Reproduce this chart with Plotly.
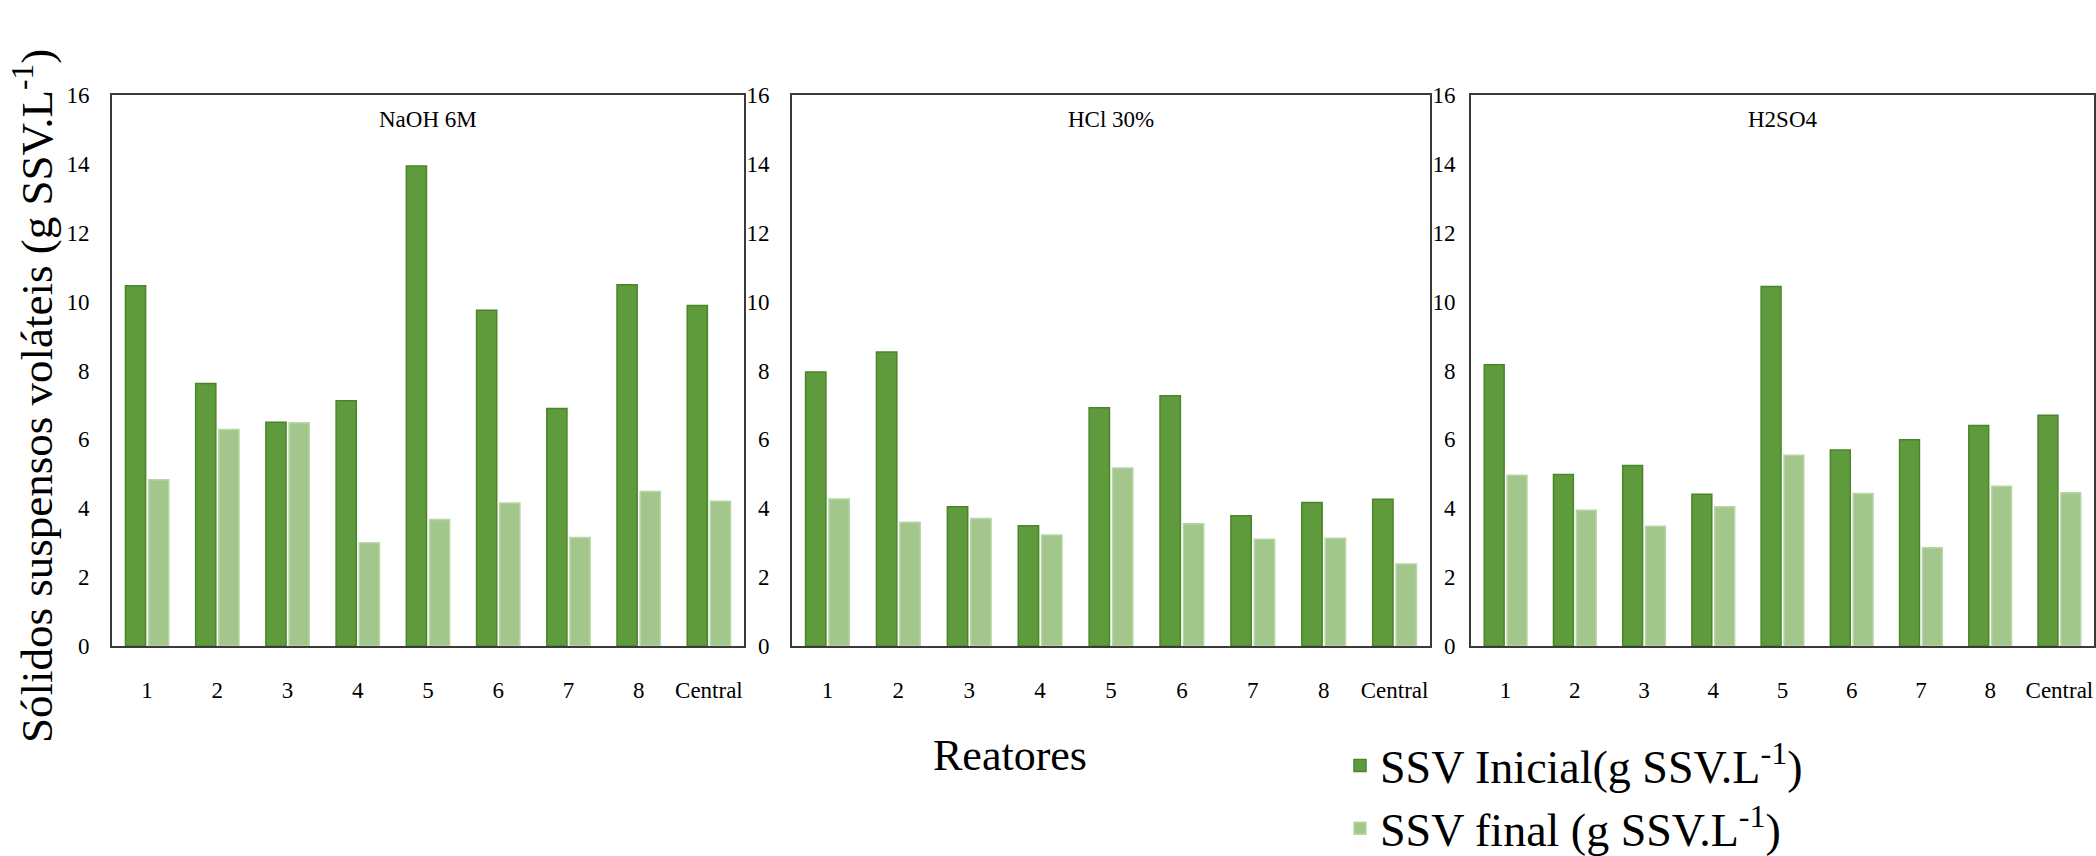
import plotly.graph_objects as go

# Reactor labels and panel (treatment) names
reatores = ["1", "2", "3", "4", "5", "6", "7", "8", "Central"]
tratamentos = ["NaOH 6M", "HCl 30%", "H2SO4"]

# Volatile suspended solids (g SSV/L), initial and final, per treatment
naoh_inicial = [10.46, 7.62, 6.50, 7.12, 13.94, 9.75, 6.90, 10.49, 9.89]
naoh_final = [4.83, 6.29, 6.48, 3.00, 3.67, 4.15, 3.15, 4.49, 4.20]

hcl_inicial = [7.96, 8.54, 4.04, 3.49, 6.92, 7.27, 3.78, 4.17, 4.26]
hcl_final = [4.27, 3.59, 3.70, 3.22, 5.17, 3.55, 3.10, 3.13, 2.38]

h2so4_inicial = [8.17, 4.98, 5.24, 4.41, 10.44, 5.69, 5.99, 6.40, 6.70]
h2so4_final = [4.96, 3.94, 3.48, 4.04, 5.54, 4.43, 2.85, 4.64, 4.45]

y_ticks = [0, 2, 4, 6, 8, 10, 12, 14, 16]

W, H = 2096, 856
FONT = "Liberation Serif"
COR_INICIAL = "#5f9b3c"
BORDA_INICIAL = "#4a852a"
COR_FINAL = "#a3c68d"
BORDA_FINAL = "#b8d6a6"

# Panel placement in pixels (left, right), shared top/bottom, y-label gap
paineis_px = [(112, 744), (792, 1430), (1471, 2094)]
afastamento_y = [16, 16, 9]
topo_px, base_px = 95, 646

dados = [
    (naoh_inicial, naoh_final),
    (hcl_inicial, hcl_final),
    (h2so4_inicial, h2so4_final),
]

fig = go.Figure()

for i, (ini, fin) in enumerate(dados):
    sfx = "" if i == 0 else str(i + 1)
    fig.add_trace(go.Bar(
        x=reatores, y=ini, name="SSV Inicial(g SSV.L<sup>-1</sup>)",
        marker=dict(color=COR_INICIAL, line=dict(color=BORDA_INICIAL, width=1.5)),
        xaxis="x" + sfx, yaxis="y" + sfx,
        showlegend=(i == 0), legendgroup="ini",
    ))
    fig.add_trace(go.Bar(
        x=reatores, y=fin, name="SSV final (g SSV.L<sup>-1</sup>)",
        marker=dict(color=COR_FINAL, line=dict(color=BORDA_FINAL, width=1.5)),
        xaxis="x" + sfx, yaxis="y" + sfx,
        showlegend=(i == 0), legendgroup="fin",
    ))

y_dom = [1 - base_px / H, 1 - topo_px / H]
eixo_comum = dict(
    showline=True, linecolor="#3a3a3a", linewidth=2, mirror=True,
    showgrid=False, zeroline=False, ticks="", automargin=False,
    tickfont=dict(family=FONT, size=23, color="#000"),
)

layout_axes = {}
for i, (l, r) in enumerate(paineis_px):
    sfx = "" if i == 0 else str(i + 1)
    layout_axes["xaxis" + sfx] = dict(
        domain=[l / W, r / W], anchor="y" + sfx,
        type="category", ticklabelstandoff=22, **eixo_comum,
    )
    layout_axes["yaxis" + sfx] = dict(
        domain=y_dom, anchor="x" + sfx, range=[0, 16],
        tickvals=y_ticks, ticklabelstandoff=afastamento_y[i], **eixo_comum,
    )

anotacoes = []
for i, nome in enumerate(tratamentos):
    sfx = "" if i == 0 else str(i + 1)
    anotacoes.append(dict(
        text=nome, xref="x" + sfx + " domain", yref="y" + sfx + " domain",
        x=0.5, y=0.955, xanchor="center", yanchor="middle", showarrow=False,
        font=dict(family=FONT, size=23, color="#000"),
    ))

anotacoes.append(dict(
    text="Sólidos suspensos voláteis (g SSV.L<sup>-1</sup>)",
    xref="paper", yref="paper", x=33 / W, y=1 - 396 / H,
    xanchor="center", yanchor="middle",
    textangle=-90, showarrow=False,
    font=dict(family=FONT, size=45, color="#000"),
))
anotacoes.append(dict(
    text="Reatores", xref="paper", yref="paper",
    x=1010 / W, y=1 - 782 / H, showarrow=False,
    font=dict(family=FONT, size=44, color="#000"),
))

fig.update_layout(
    width=W, height=H,
    margin=dict(l=0, r=0, t=0, b=0, autoexpand=False),
    paper_bgcolor="white", plot_bgcolor="white",
    barmode="group", bargap=0.34, bargroupgap=0.13,
    showlegend=True,
    legend=dict(
        x=1340 / W, y=1 - 729 / H, xanchor="left", yanchor="top",
        font=dict(family=FONT, size=46, color="#000"),
        bgcolor="rgba(0,0,0,0)", itemwidth=30, tracegroupgap=0,
    ),
    annotations=anotacoes,
    **layout_axes,
)

fig.write_html("out.html")
